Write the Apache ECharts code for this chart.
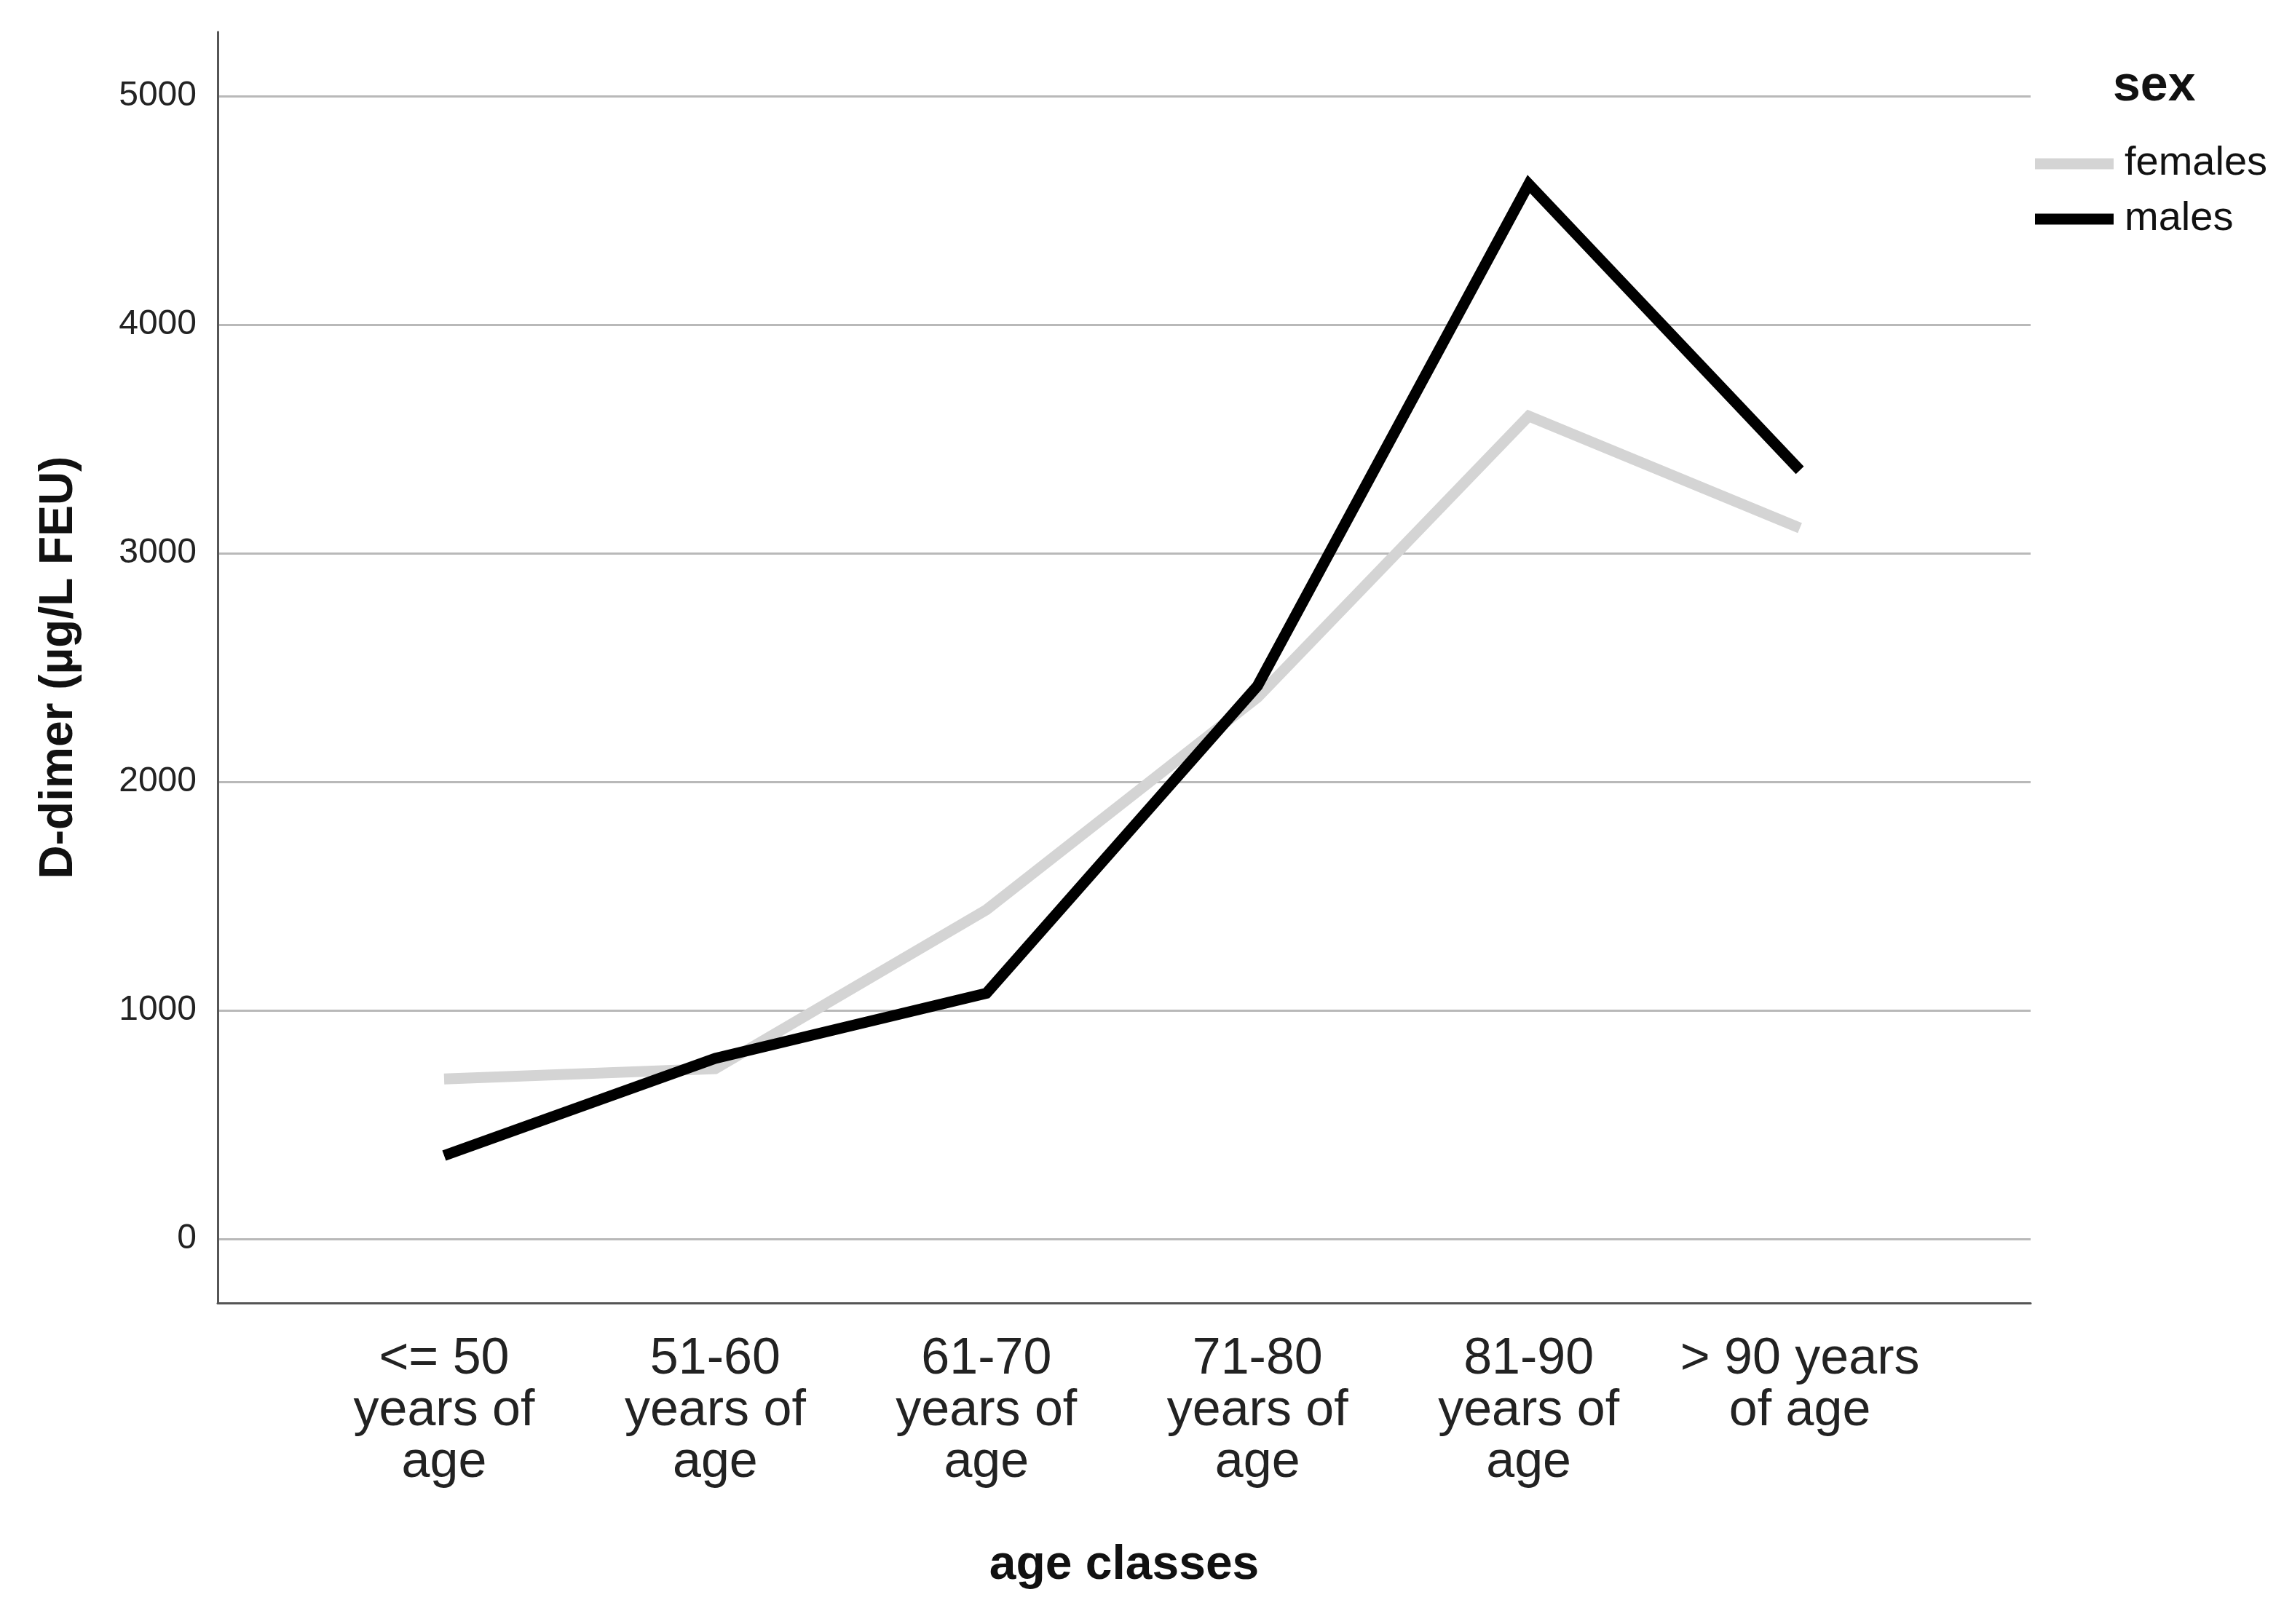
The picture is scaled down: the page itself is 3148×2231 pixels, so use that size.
<!DOCTYPE html>
<html>
<head>
<meta charset="utf-8">
<script src="https://cdn.jsdelivr.net/npm/echarts@6/dist/echarts.min.js"></script>
<style>
html,body{margin:0;padding:0;background:#fff;}
#chart{width:3148px;height:2231px;}
</style>
</head>
<body>
<div id="chart"></div>
<script>
const categories = ['<= 50\nyears of\nage', '51-60\nyears of\nage', '61-70\nyears of\nage', '71-80\nyears of\nage', '81-90\nyears of\nage', '> 90 years\nof age'];
const females = [700, 745, 1440, 2370, 3600, 3110];
const males = [365, 790, 1075, 2420, 4615, 3363];
const yTicks = [0, 1000, 2000, 3000, 4000, 5000];
const seriesNames = ['females', 'males'];

const xIdx = categories.map((c, i) => i);
const toPairs = arr => arr.map((v, i) => [xIdx[i], v]);

const chart = echarts.init(document.getElementById('chart'));
chart.setOption({
  backgroundColor: '#ffffff',
  animation: false,
  title: {
    text: 'sex',
    left: 2897,
    top: 80,
    textStyle: {fontFamily: 'Liberation Sans, Arial, sans-serif', fontSize: 68, fontWeight: 'bold', color: '#111'}
  },
  legend: {
    orient: 'vertical',
    left: 2790,
    top: 192,
    icon: 'rect',
    itemWidth: 108,
    itemHeight: 15,
    itemGap: 20,
    selectedMode: false,
    data: seriesNames,
    textStyle: {fontFamily: 'Liberation Sans, Arial, sans-serif', fontSize: 56, lineHeight: 56, color: '#111', padding: [0, 0, 0, 10]}
  },
  grid: {left: 299, right: 359, top: 44, bottom: 441, containLabel: false, outerBoundsMode: 'none'},
  xAxis: {
    type: 'value',
    min: -0.835,
    max: 5.851,
    name: 'age classes',
    nameLocation: 'middle',
    nameGap: 328,
    nameTextStyle: {fontFamily: 'Liberation Sans, Arial, sans-serif', fontSize: 66, fontWeight: 'bold', color: '#111'},
    axisLine: {show: true, onZero: false, lineStyle: {color: '#555', width: 3}},
    axisTick: {show: false, customValues: xIdx},
    splitLine: {show: false},
    axisLabel: {
      customValues: xIdx,
      formatter: v => categories[Math.round(v)],
      fontFamily: "'Liberation Sans Narrow', 'Liberation Sans', Arial, sans-serif",
      fontSize: 70,
      lineHeight: 71,
      margin: 42,
      color: '#222'
    }
  },
  yAxis: {
    type: 'value',
    min: -280,
    max: 5280,
    name: 'D-dimer (µg/L FEU)',
    nameLocation: 'middle',
    nameGap: 186,
    nameTextStyle: {fontFamily: 'Liberation Sans, Arial, sans-serif', fontSize: 64, fontWeight: 'bold', color: '#111'},
    axisLine: {show: true, onZero: false, lineStyle: {color: '#555', width: 3}},
    axisTick: {show: false, customValues: yTicks},
    splitLine: {show: true, lineStyle: {color: '#b9b9b9', width: 3}},
    axisLabel: {
      customValues: yTicks,
      formatter: v => String(v),
      fontFamily: 'Liberation Sans, Arial, sans-serif',
      fontSize: 48,
      margin: 29,
      color: '#222'
    }
  },
  series: [
    {
      name: seriesNames[0],
      type: 'line',
      data: toPairs(females),
      symbol: 'none',
      color: '#d4d4d4',
      lineStyle: {color: '#d4d4d4', width: 15, join: 'miter', cap: 'butt'},
      z: 2
    },
    {
      name: seriesNames[1],
      type: 'line',
      data: toPairs(males),
      symbol: 'none',
      color: '#000000',
      lineStyle: {color: '#000000', width: 15, join: 'miter', cap: 'butt'},
      z: 3
    }
  ]
});
</script>
</body>
</html>
